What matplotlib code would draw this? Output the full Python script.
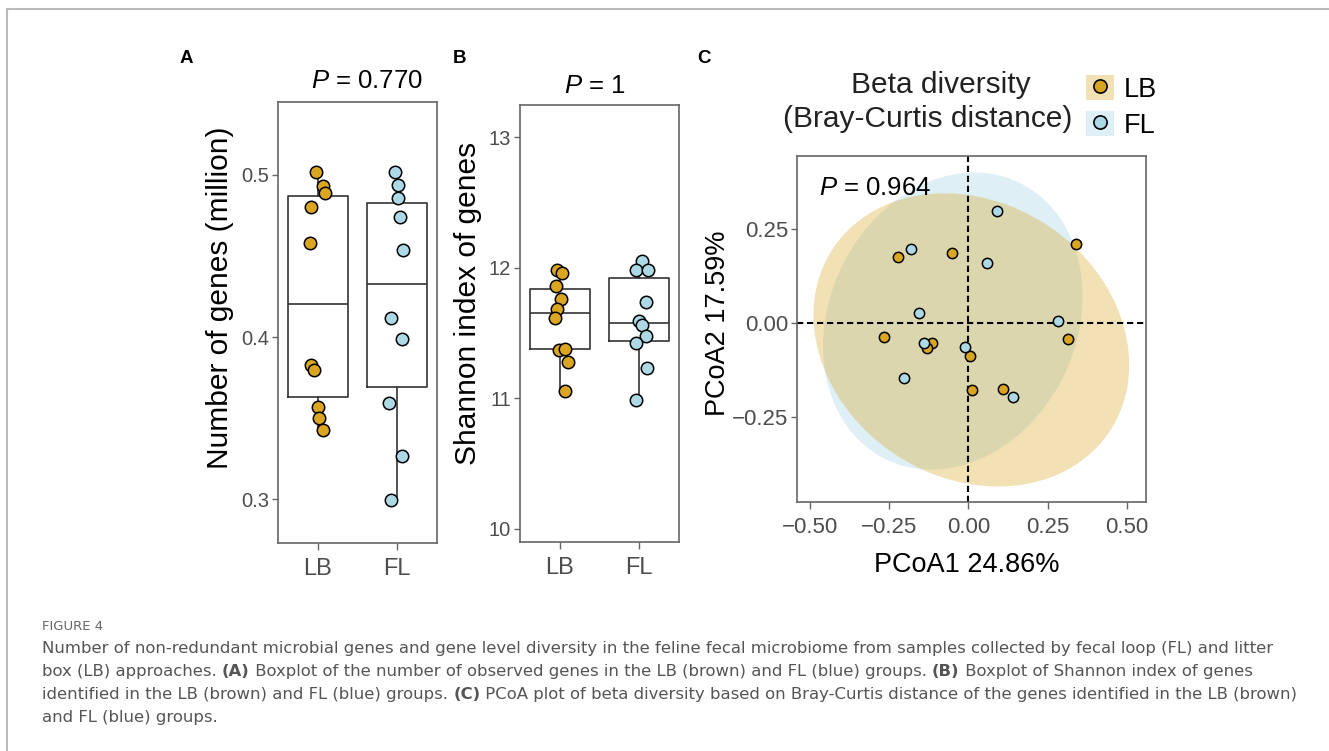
import matplotlib
matplotlib.use("Agg")
import matplotlib.pyplot as plt
import numpy as np
from matplotlib.patches import Ellipse, Patch
from matplotlib.lines import Line2D
from matplotlib.legend_handler import HandlerTuple

# ---- data ----
groups = ["LB", "FL"]

# panel A: number of genes (million)
genes_lb = [0.502, 0.493, 0.489, 0.480, 0.458, 0.383, 0.380, 0.357, 0.350, 0.343]
genes_fl = [0.502, 0.494, 0.486, 0.474, 0.454, 0.4115, 0.3986, 0.3594, 0.3269, 0.2998]
genes_jit_lb = [-0.025, 0.06, 0.09, -0.09, -0.10, -0.09, -0.05, 0.0, 0.01, 0.06]
genes_jit_fl = [-0.03, 0.01, 0.01, 0.04, 0.07, -0.075, 0.06, -0.10, 0.06, -0.075]
genes_p = "0.770"

# panel B: Shannon index of genes
shannon_lb = [11.98, 11.96, 11.862, 11.76, 11.684, 11.615, 11.373, 11.378, 11.28, 11.054]
shannon_fl = [12.048, 11.98, 11.98, 11.74, 11.59, 11.564, 11.48, 11.424, 11.233, 10.985]
shannon_jit_lb = [-0.04, 0.03, -0.05, 0.01, -0.04, -0.06, -0.01, 0.06, 0.10, 0.06]
shannon_jit_fl = [0.03, -0.04, 0.105, 0.08, 0.0, 0.03, 0.09, -0.04, 0.10, -0.04]
shannon_p = "1"

# panel C: PCoA (Bray-Curtis)
lb_pc1 = [-0.223, -0.052, 0.340, -0.266, -0.116, 0.005, 0.011, 0.109, 0.316, -0.132]
lb_pc2 = [0.175, 0.185, 0.210, -0.036, -0.054, -0.087, -0.178, -0.176, -0.043, -0.066]
fl_pc1 = [0.090, -0.182, 0.058, -0.156, 0.284, -0.139, -0.010, -0.202, 0.140]
fl_pc2 = [0.299, 0.198, 0.159, 0.026, 0.005, -0.052, -0.063, -0.145, -0.196]
# 95% ellipses: centre and shape matrix, as drawn in the reference
lb_ell_center = [0.0095, -0.045]
lb_ell_shape = [[0.2485, -0.033], [-0.033, 0.152]]
fl_ell_center = [-0.049, 0.005]
fl_ell_shape = [[0.168, 0.027], [0.027, 0.156]]
pc1_label = "PCoA1 24.86%"
pc2_label = "PCoA2 17.59%"
pcoa_p = "0.964"
pcoa_ticks = [-0.50, -0.25, 0.00, 0.25, 0.50]

caption_head = "FIGURE 4"
caption_lines = [
    [("Number of non-redundant microbial genes and gene level diversity in the feline fecal microbiome "
      "from samples collected by fecal loop (FL) and litter", "normal")],
    [("box (LB) approaches. ", "normal"), ("(A)", "bold"),
     (" Boxplot of the number of observed genes in the LB (brown) and FL (blue) groups. ", "normal"),
     ("(B)", "bold"), (" Boxplot of Shannon index of genes", "normal")],
    [("identified in the LB (brown) and FL (blue) groups. ", "normal"), ("(C)", "bold"),
     (" PCoA plot of beta diversity based on Bray-Curtis distance of the genes identified in the LB (brown)",
      "normal")],
    [("and FL (blue) groups.", "normal")],
]

# ---- style ----
GOLD = "#DAA520"
BLUE = "#ADD8E6"
TICK_C = "#4d4d4d"
SPINE_C = "#666666"
W, H = 1329, 751
CAP_FONT = ["DejaVu Sans"]
CAP_SIZE = 11.85

plt.rcParams["font.family"] = ["Liberation Sans", "DejaVu Sans"]
plt.rcParams["mathtext.fontset"] = "custom"
plt.rcParams["mathtext.rm"] = "Liberation Sans"
plt.rcParams["mathtext.it"] = "Liberation Sans:italic"


def px_rect(left, top, right, bottom):
    return [left / W, 1 - bottom / H, (right - left) / W, (bottom - top) / H]


def style_axes(ax, ysize, xsize):
    for s in ax.spines.values():
        s.set_color(SPINE_C)
        s.set_linewidth(1.2)
    ax.tick_params(axis="y", length=4.5, width=1, color=SPINE_C, labelcolor=TICK_C,
                   labelsize=ysize, pad=2)
    ax.tick_params(axis="x", length=5, width=1, color=SPINE_C, labelcolor=TICK_C,
                   labelsize=xsize, pad=6)


def box_panel(ax, lb, fl, jit_lb, jit_fl, ylim, yticks):
    line = dict(color="#333333", linewidth=1.2)
    ax.boxplot([lb, fl], positions=[1, 2], widths=0.75, showcaps=False, showfliers=False,
               boxprops=line, medianprops=line, whiskerprops=line, zorder=2)
    ax.scatter(1 + np.array(jit_lb), lb, s=80, c=GOLD, edgecolors="black", linewidths=1.1, zorder=3)
    ax.scatter(2 + np.array(jit_fl), fl, s=80, c=BLUE, edgecolors="black", linewidths=1.1, zorder=3)
    ax.set_xlim(0.5, 2.5)
    ax.set_ylim(*ylim)
    ax.set_yticks(yticks)
    ax.set_xticks([1, 2])
    ax.set_xticklabels(groups)
    style_axes(ax, 14.5, 17)


def add_ellipse(ax, center, shape, color, alpha):
    vals, vecs = np.linalg.eigh(np.array(shape))
    angle = np.degrees(np.arctan2(vecs[1, 1], vecs[0, 1]))
    e = Ellipse(center, 2 * np.sqrt(vals[1]), 2 * np.sqrt(vals[0]), angle=angle,
                facecolor=color, alpha=alpha, edgecolor="none", zorder=1)
    ax.add_patch(e)


fig = plt.figure(figsize=(W / 100, H / 100), dpi=100)

# ---- panel A ----
axA = fig.add_axes(px_rect(278, 102, 437, 543))
box_panel(axA, genes_lb, genes_fl, genes_jit_lb, genes_jit_fl, (0.273, 0.545), [0.3, 0.4, 0.5])
axA.text(0.56, 1.032, r"$\mathit{P}$ = " + genes_p, transform=axA.transAxes, ha="center",
         va="baseline", fontsize=18.5)
fig.text(220 / W, 1 - 298 / H, "Number of genes (million)", rotation=90, ha="center",
         va="center", fontsize=21.5)

# ---- panel B ----
axB = fig.add_axes(px_rect(520, 105, 679, 542))
box_panel(axB, shannon_lb, shannon_fl, shannon_jit_lb, shannon_jit_fl, (9.90, 13.245),
          [10, 11, 12, 13])
axB.text(0.472, 1.028, r"$\mathit{P}$ = " + shannon_p, transform=axB.transAxes, ha="center",
         va="baseline", fontsize=18.5)
fig.text(468 / W, 1 - 303 / H, "Shannon index of genes", rotation=90, ha="center",
         va="center", fontsize=21.5)

# ---- panel C ----
axC = fig.add_axes(px_rect(797, 156, 1146, 502))
add_ellipse(axC, fl_ell_center, fl_ell_shape, BLUE, 0.4)
add_ellipse(axC, lb_ell_center, lb_ell_shape, GOLD, 0.33)
axC.axhline(0, color="black", lw=1.5, ls=(0, (3, 1.8)), zorder=2)
axC.axvline(0, color="black", lw=1.5, ls=(0, (3, 1.8)), zorder=2)
axC.scatter(lb_pc1, lb_pc2, s=55, c=GOLD, edgecolors="black", linewidths=1.1, zorder=3)
axC.scatter(fl_pc1, fl_pc2, s=55, c=BLUE, edgecolors="black", linewidths=1.1, zorder=3)
axC.set_xlim(-0.541, 0.561)
axC.set_ylim(-0.476, 0.444)
axC.set_xticks(pcoa_ticks)
axC.set_xticklabels([f"{v:.2f}".replace("-", "\u2212") for v in pcoa_ticks])
axC.set_yticks(pcoa_ticks[1:4])
axC.set_yticklabels([f"{v:.2f}".replace("-", "\u2212") for v in pcoa_ticks[1:4]])
style_axes(axC, 16, 16)
axC.text(-0.471, 0.340, r"$\mathit{P}$ = " + pcoa_p, ha="left", va="baseline", fontsize=18.5,
         zorder=4)
fig.text(718 / W, 1 - 323 / H, pc2_label, rotation=90, ha="center", va="center", fontsize=19.5)
fig.text(967 / W, 1 - 565 / H, pc1_label, ha="center", va="center", fontsize=19.5)
fig.text(940.5 / W, 1 - 93 / H, "Beta diversity", ha="center", va="baseline", fontsize=21.5,
         color="#222222")
fig.text(928 / W, 1 - 127 / H, "(Bray-Curtis distance)", ha="center", va="baseline",
         fontsize=21.5, color="#222222")

handles = [
    (Patch(facecolor=GOLD, alpha=0.33, edgecolor="none"),
     Line2D([], [], marker="o", ls="none", mfc=GOLD, mec="black", mew=1.2, ms=9.5)),
    (Patch(facecolor=BLUE, alpha=0.4, edgecolor="none"),
     Line2D([], [], marker="o", ls="none", mfc=BLUE, mec="black", mew=1.2, ms=9.5)),
]
axC.legend(handles, groups, handler_map={tuple: HandlerTuple(ndivide=1)}, frameon=False,
           fontsize=19.5, handlelength=1.05, handleheight=1.05, handletextpad=0.35,
           labelspacing=0.3, borderpad=0, borderaxespad=0, loc="upper left",
           bbox_to_anchor=(1086 / W, 1 - 75 / H), bbox_transform=fig.transFigure)

# panel letters
for letter, x in zip("ABC", [180, 453, 697]):
    fig.text(x / W, 1 - 63 / H, letter, fontsize=13.5, fontweight="bold", va="baseline")

# ---- caption ----
fig.text(42 / W, 1 - 630 / H, caption_head, fontsize=9.5, color="#666666", family=CAP_FONT,
         va="baseline")
renderer = fig.canvas.get_renderer()


def run_width(s, weight):
    t1 = fig.text(0, 0, "|" + s + "|", fontsize=CAP_SIZE, family=CAP_FONT, fontweight=weight)
    t2 = fig.text(0, 0, "||", fontsize=CAP_SIZE, family=CAP_FONT, fontweight=weight)
    w = t1.get_window_extent(renderer).width - t2.get_window_extent(renderer).width
    t1.remove()
    t2.remove()
    return w


for i, runs in enumerate(caption_lines):
    x = 42.0
    y = 653 + i * 23
    for s, weight in runs:
        fig.text(x / W, 1 - y / H, s, fontsize=CAP_SIZE, family=CAP_FONT, fontweight=weight,
                 color="#555555", va="baseline")
        x += run_width(s, weight)

# page border
fig.add_artist(Line2D([7 / W, 7 / W], [0, 1 - 9 / H], transform=fig.transFigure,
                      color="#bbbbbb", lw=1.5))
fig.add_artist(Line2D([7 / W, 1], [1 - 9 / H, 1 - 9 / H], transform=fig.transFigure,
                      color="#bbbbbb", lw=1.5))

fig.savefig("out.png", dpi=100, facecolor="white")
